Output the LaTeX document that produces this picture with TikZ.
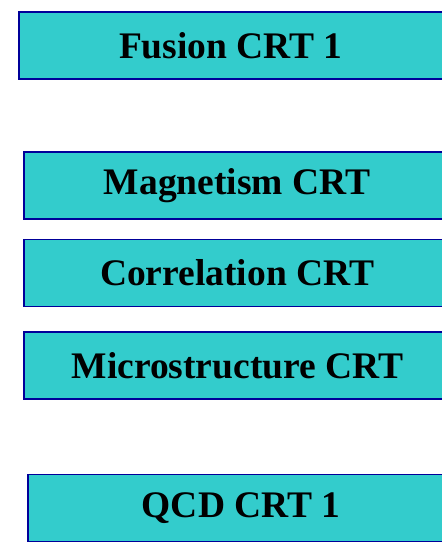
\documentclass[tikz,border=0pt]{standalone}
\usepackage{fontspec}
\setmainfont{Liberation Serif}
\definecolor{crtfill}{RGB}{51,204,204}
\definecolor{crtline}{RGB}{0,0,153}

\begin{document}
\begin{tikzpicture}[x=1pt, y=-1pt, thick]
    \tikzset{crtbox/.style={draw=crtline, line width=1.8pt, fill=crtfill, rectangle, anchor=north west, minimum width=427pt, minimum height=67pt, inner sep=0pt, font=\fontsize{37.5}{40}\selectfont\bfseries}}
    \clip (0,0) rectangle (442,544);
    \useasboundingbox (0,0) rectangle (442,544);

    % Boxes
    \node[crtbox, minimum width=424pt] (fusion) at (18,11) {Fusion CRT 1};
    \node[crtbox] (magnetism) at (22.7,151) {Magnetism CRT};
    \node[crtbox] (correlation) at (22.7,238.5) {Correlation CRT};
    \node[crtbox] (micro) at (23,331) {Microstructure CRT};
    \node[crtbox] (qcd) at (26.7,473.5) {QCD CRT 1};
\end{tikzpicture}
\end{document}
